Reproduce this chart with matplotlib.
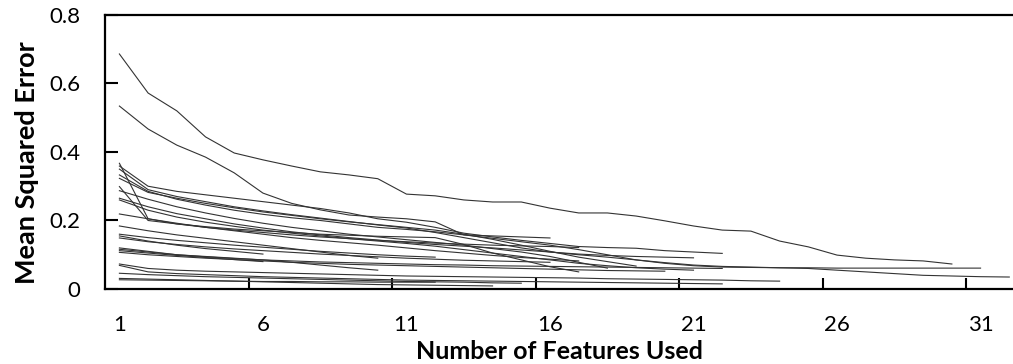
import matplotlib

matplotlib.use("Agg")
import matplotlib.pyplot as plt
from matplotlib.ticker import FixedLocator

# mean squared error per run, one list per curve (index 0 = 1 feature)
run_a = [0.686, 0.572, 0.52, 0.444, 0.397, 0.377, 0.359, 0.342, 0.333, 0.322,
         0.277, 0.272, 0.26, 0.254, 0.254, 0.236, 0.222, 0.222, 0.213, 0.199,
         0.184, 0.172, 0.169, 0.14, 0.123, 0.099, 0.09, 0.085, 0.082, 0.073]
run_b = [0.534, 0.467, 0.42, 0.385, 0.339, 0.28, 0.25, 0.231, 0.216, 0.21,
         0.205, 0.196, 0.158, 0.155, 0.152, 0.149]
run_c = [0.367, 0.205, 0.19, 0.18, 0.172, 0.165, 0.158, 0.152, 0.147, 0.142,
         0.138, 0.134, 0.131, 0.128, 0.126, 0.124, 0.121]
run_d = [0.359, 0.30, 0.285, 0.275, 0.265, 0.255, 0.245, 0.235, 0.222, 0.205,
         0.195, 0.18, 0.163, 0.152, 0.142, 0.133, 0.124, 0.121, 0.119, 0.112,
         0.108, 0.104]
run_e = [0.35, 0.29, 0.27, 0.255, 0.24, 0.228, 0.217, 0.207, 0.197, 0.187,
         0.178, 0.165, 0.15, 0.135, 0.12, 0.108, 0.102, 0.098, 0.095, 0.093,
         0.091]
run_f = [0.333, 0.285, 0.262, 0.245, 0.23, 0.218, 0.208, 0.2, 0.19, 0.18,
         0.174, 0.167, 0.158, 0.148, 0.138, 0.128, 0.115, 0.1, 0.085, 0.075,
         0.068, 0.064, 0.063, 0.062, 0.062, 0.061, 0.061, 0.061, 0.061, 0.061,
         0.061]
run_g = [0.323, 0.282, 0.265, 0.25, 0.237, 0.225, 0.215, 0.205, 0.196, 0.188,
         0.18, 0.172, 0.16, 0.145, 0.128, 0.11, 0.093, 0.08, 0.067]
run_h = [0.299, 0.2, 0.19, 0.182, 0.175, 0.17, 0.165, 0.16, 0.157, 0.154,
         0.152, 0.15, 0.13, 0.105, 0.085, 0.065, 0.05]
run_i = [0.287, 0.262, 0.24, 0.222, 0.206, 0.192, 0.18, 0.17, 0.16, 0.152,
         0.144, 0.136, 0.128, 0.118, 0.108, 0.095, 0.078, 0.061]
run_j = [0.265, 0.24, 0.22, 0.205, 0.19, 0.178, 0.167, 0.158, 0.15, 0.143,
         0.136, 0.13, 0.125, 0.12, 0.114, 0.108, 0.1, 0.093, 0.085, 0.077,
         0.07, 0.066, 0.064, 0.062, 0.06, 0.055, 0.05, 0.045, 0.04, 0.038,
         0.036, 0.035]
run_k = [0.26, 0.23, 0.21, 0.195, 0.183, 0.172, 0.163, 0.155, 0.147, 0.14,
         0.133, 0.125, 0.115, 0.105, 0.095, 0.085, 0.075, 0.068, 0.062, 0.058,
         0.055]
run_l = [0.219, 0.205, 0.192, 0.18, 0.17, 0.16, 0.15, 0.142, 0.135, 0.128,
         0.12, 0.112, 0.105, 0.098, 0.092, 0.087, 0.082]
run_m = [0.184, 0.17, 0.158, 0.148, 0.138, 0.128, 0.118, 0.108, 0.098, 0.09]
run_n = [0.16, 0.15, 0.142, 0.135, 0.128, 0.122, 0.116, 0.11, 0.105, 0.1,
         0.096, 0.093]
run_o = [0.155, 0.14, 0.128, 0.118, 0.11, 0.102]
run_p = [0.149, 0.138, 0.13, 0.123, 0.117, 0.112, 0.107, 0.102, 0.098, 0.094,
         0.09, 0.087, 0.084, 0.082, 0.08, 0.078]
run_q = [0.12, 0.11, 0.1, 0.095, 0.09, 0.085, 0.078, 0.07, 0.062, 0.055]
run_r = [0.116, 0.108, 0.1, 0.094, 0.089, 0.085, 0.082, 0.079, 0.077, 0.075,
         0.073, 0.071, 0.07, 0.068, 0.067, 0.066, 0.065, 0.064, 0.063, 0.062,
         0.061, 0.06]
run_s = [0.112, 0.105, 0.098, 0.092, 0.086, 0.08]
run_t = [0.107, 0.1, 0.095, 0.09, 0.086, 0.082, 0.078, 0.075, 0.072, 0.07,
         0.068, 0.066, 0.064, 0.062, 0.06, 0.058, 0.056, 0.054, 0.053, 0.052]
run_u = [0.073, 0.06, 0.055, 0.052, 0.05, 0.048, 0.046, 0.044, 0.042, 0.04,
         0.038, 0.037, 0.036, 0.035, 0.034, 0.033, 0.032, 0.03, 0.029, 0.028,
         0.027, 0.026, 0.024, 0.023]
run_v = [0.069, 0.05, 0.045, 0.042, 0.039, 0.036, 0.034, 0.032, 0.03, 0.028,
         0.026, 0.025, 0.024, 0.023, 0.022, 0.021, 0.02, 0.019, 0.018, 0.017,
         0.016, 0.015]
run_w = [0.046, 0.042, 0.039, 0.036, 0.034, 0.032, 0.03, 0.028, 0.026, 0.024,
         0.022, 0.021, 0.02, 0.018, 0.017]
run_x = [0.031, 0.029, 0.027, 0.025, 0.023, 0.021, 0.019, 0.017, 0.015, 0.013,
         0.012, 0.011, 0.01, 0.009]
run_y = [0.027, 0.026, 0.025, 0.024, 0.023, 0.022, 0.022, 0.021, 0.021, 0.02,
         0.02, 0.02]

runs = [run_a, run_b, run_c, run_d, run_e, run_f, run_g, run_h, run_i, run_j,
        run_k, run_l, run_m, run_n, run_o, run_p, run_q, run_r, run_s, run_t,
        run_u, run_v, run_w, run_x, run_y]

x_labels = [1, 6, 11, 16, 21, 26, 31]
y_ticks = [0, 0.2, 0.4, 0.6, 0.8]

plt.rcParams["font.family"] = ["Lato", "DejaVu Sans"]

fig = plt.figure(figsize=(10.13, 3.64), dpi=100)
ax = fig.add_axes([0.1037, 0.206, 0.8963, 0.753])

for run in runs:
    ax.plot(range(1, len(run) + 1), run, color="#333333", lw=0.8)

ax.set_xlim(0.5, 32.13)
ax.set_ylim(0, 0.8)
ax.spines["right"].set_visible(False)
for side in ("left", "bottom", "top"):
    ax.spines[side].set_linewidth(1.6)

ax.set_yticks(y_ticks)
ax.set_yticklabels(["0", "0.2", "0.4", "0.6", "0.8"])
ax.tick_params(axis="y", direction="in", length=9, width=1.5,
               labelsize=16, pad=18)

ax.set_xticks(x_labels)
ax.xaxis.set_minor_locator(FixedLocator([5.5, 10.5, 15.5, 20.5, 25.5, 30.5]))
ax.tick_params(axis="x", which="major", length=0, labelsize=16, pad=19)
ax.tick_params(axis="x", which="minor", direction="in", length=8, width=1.5)

ax.set_xlabel("Number of Features Used", fontsize=18, fontweight="bold",
              labelpad=3)
ax.set_ylabel("Mean Squared Error", fontsize=19.5, fontweight="bold")
ax.yaxis.set_label_coords(-0.073, 0.46)

fig.savefig("out.png", dpi=100)
plt.close(fig)
